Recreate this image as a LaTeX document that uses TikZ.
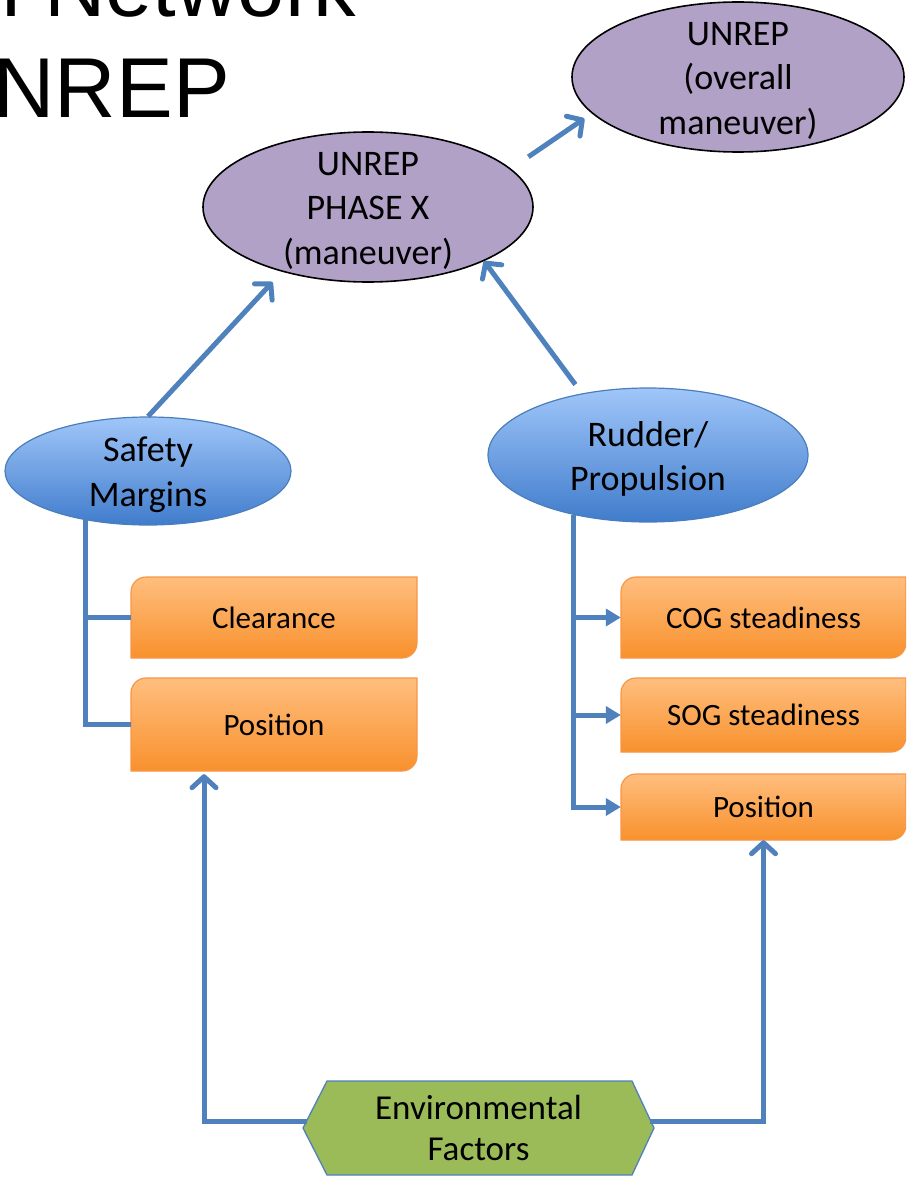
\documentclass[tikz,border=0pt]{standalone}
\usepackage{fontspec}
\setmainfont{Carlito}
\newfontfamily\titlefont{Liberation Sans}
\usetikzlibrary{arrows.meta,shapes.geometric,calc}
\definecolor{lnblue}{RGB}{79,129,189}
\definecolor{purp}{RGB}{178,161,199}
\definecolor{bltop}{RGB}{160,198,249}
\definecolor{blbot}{RGB}{64,124,204}
\definecolor{bledge}{RGB}{74,126,187}
\definecolor{ortop}{RGB}{255,190,126}
\definecolor{orbot}{RGB}{248,145,45}
\definecolor{oredge}{RGB}{247,150,70}
\definecolor{envgreen}{RGB}{155,187,89}
\tikzset{
  purpell/.style={ellipse, draw=black, line width=1.6pt, fill=purp, inner sep=0pt},
  blueell/.style={ellipse, draw=bledge, line width=1.2pt, top color=bltop, bottom color=blbot, inner sep=0pt},
  etext/.style={align=center, inner sep=0pt, font=\fontsize{36}{44.5}\selectfont},
  btext/.style={inner sep=0pt, font=\fontsize{31}{37}\selectfont},
  ofill/.style={top color=ortop, bottom color=orbot, draw=oredge, line width=1.2pt},
  ln/.style={draw=lnblue, line width=5pt},
  arr/.style={ln, -{Straight Barb[length=11pt,width=24pt,round]}},
  tri/.style={ln, -{Triangle[length=15pt,width=17pt]}},
}
\newcommand\orbox[6]{%
  \path[ofill] (#2,#3+15) .. controls (#2,#3+6.7) and (#2+6.7,#3) .. (#2+15,#3)
     -- (#4,#3) -- (#4,#5-15) .. controls (#4,#5-6.7) and (#4-6.7,#5) .. (#4-15,#5)
     -- (#2,#5) -- cycle;
  \node[btext, minimum width={(#4-#2)*1pt}, minimum height={(#5-#3)*1pt}] (#1)
     at ({(#2+#4)/2},{(#3+#5)/2}) {#6};%
}
\begin{document}
\begin{tikzpicture}[x=1pt,y=-1pt]
\useasboundingbox (0,0) rectangle (906,1177);
\clip (0,0) rectangle (906,1177);

% title (cut by the page edge)
\node[anchor=base west, inner sep=0pt, font=\titlefont\fontsize{85}{100}\selectfont] (title1) at (-329,17) {Bayesian Network};
\node[anchor=base west, inner sep=0pt, font=\titlefont\fontsize{85}{100}\selectfont] (title2) at (-68,118) {UNREP};

% ellipses
\node[purpell, minimum width=332pt, minimum height=150pt] (overall) at (738,77) {};
\node[etext] (overallt) at ([yshift=-3.5pt]overall.center) {UNREP\\(overall\\maneuver)};
\node[purpell, minimum width=330pt, minimum height=150pt] (phase) at (368,207) {};
\node[etext] (phaset) at ([yshift=-3.5pt]phase.center) {UNREP\\PHASE X\\(maneuver)};
\node[blueell, minimum width=286pt, minimum height=108pt] (safety) at (148,471) {};
\node[etext] (safetyt) at ([yshift=-3.5pt]safety.center) {Safety\\Margins};
\node[blueell, minimum width=320pt, minimum height=134pt] (rudder) at (648,455) {};
\node[etext] (ruddert) at ([yshift=-4pt]rudder.center) {Rudder/\\Propulsion};

% boxes
\orbox{clear}{131}{577}{417}{658}{Clearance}
\orbox{posl}{131}{678}{417}{771}{Position}
\orbox{cog}{621}{577}{906}{658}{COG steadiness}
\orbox{sog}{621}{678}{906}{752}{SOG steadiness}
\orbox{posr}{621}{774}{906}{840}{Position}

% hexagon
\path[fill=envgreen, draw=lnblue, line width=1.3pt]
  (303,1128) -- (327,1081) -- (632,1081) -- (654,1128) -- (632,1175) -- (327,1175) -- cycle;
\node[align=center, inner sep=0pt, font=\fontsize{35}{41}\selectfont,
      minimum width=351pt, minimum height=94pt] (env) at (478.5,1128) {Environmental\\Factors};

% arrows between ellipses
\draw[arr, shorten <=21pt, shorten >=9pt] (phase.15.46) -- (overall.194.45);
\draw[arr, shorten >=14pt] (safety.north) -- (phase.217.8);
\draw[arr, shorten <=11pt] (rudder.137.95) -- (phase.335.5);

% trees
\coordinate (lt) at (85,519);
\draw[ln] (lt) |- (clear.west);
\draw[ln] (lt) |- (posl.west);
\coordinate (rt) at (573,515);
\draw[tri] (rt) |- (cog.west);
\draw[tri] (rt) |- (sog.west);
\draw[tri] (rt) |- (posr.west);

% environmental factors
\draw[arr, shorten >=3pt] ([xshift=4pt,yshift=7pt]env.west) -| ([xshift=-70pt]posl.south);
\draw[arr] ([xshift=-4pt,yshift=7pt]env.east) -| (posr.south);
\end{tikzpicture}
\end{document}
